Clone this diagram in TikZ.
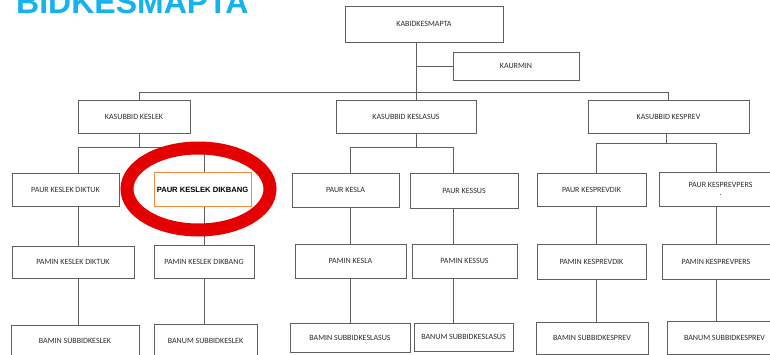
\documentclass[tikz,border=0pt]{standalone}
\usepackage{fontspec}
\setmainfont{Carlito}
\newfontfamily\titlefont{Liberation Sans}
\usetikzlibrary{calc}
\definecolor{boxline}{RGB}{95,95,95}
\definecolor{boxtext}{RGB}{45,45,45}
\definecolor{titlecyan}{RGB}{20,178,238}
\definecolor{hiorange}{RGB}{240,140,60}
\definecolor{ringred}{RGB}{228,0,0}
\tikzset{
  orgbox/.style={draw=boxline, line width=0.75pt, fill=white, inner sep=1pt,
    font=\fontsize{8}{9}\selectfont, text=boxtext, align=center},
  link/.style={draw=boxline, line width=0.75pt},
}
\newcommand{\obox}[7]{% name, x1, y1, x2, y2, text, extra
  \node[orgbox, minimum width={(#4-#2)*1pt}, minimum height={(#5-#3)*1pt}, #7]
    (#1) at ({(#2+#4)/2}, {(#3+#5)/2}) {#6};}
\begin{document}
\begin{tikzpicture}[x=1pt, y=-1pt]
\useasboundingbox (0,0) rectangle (770,355);
\fill[white] (0,0) rectangle (770,355);
\node[anchor=base west, inner sep=0pt, text=titlecyan,
  font=\titlefont\bfseries\fontsize{32}{32}\selectfont] (title) at (16,14) {BIDKESMAPTA};

% junction coordinates
\coordinate (j0) at (416,92);
\coordinate (c1) at (78,147);
\coordinate (c2) at (204,147);
\coordinate (c3) at (350,147);
\coordinate (c4) at (453,147);
\coordinate (c5) at (596,143);
\coordinate (c6) at (716,143);

\obox{kab}{345}{6}{503}{42}{KABIDKESMAPTA}{}
\obox{kaur}{453}{52}{579}{80}{KAURMIN}{}
\obox{ksl}{78}{100}{190}{133}{KASUBBID KESLEK}{}
\obox{kla}{336}{100}{476}{133}{KASUBBID KESLASUS}{}
\obox{kpr}{588}{100}{749}{133}{KASUBBID KESPREV}{}

\obox{p1}{12}{173}{119}{206}{PAUR KESLEK DIKTUK}{}
\obox{p2}{154}{173}{251}{207}{PAUR KESLEK DIKBANG}{draw=hiorange, line width=1pt, text=black, font={\titlefont\bfseries\fontsize{7.6}{9}\selectfont}}
\obox{p3}{292}{173}{399}{207}{PAUR KESLA}{}
\obox{p4}{410}{173}{518}{208}{PAUR KESSUS}{}
\obox{p5}{537}{173}{646}{206}{PAUR KESPREVDIK}{}
\obox{p6}{659}{172}{782}{206}{PAUR KESPREVPERS\\[-1pt] .}{}

\obox{m1}{12}{246}{134}{278}{PAMIN KESLEK DIKTUK}{}
\obox{m2}{154}{245}{254}{278}{PAMIN KESLEK DIKBANG}{}
\obox{m3}{295}{244}{406}{278}{PAMIN KESLA}{}
\obox{m4}{412}{244}{517}{278}{PAMIN KESSUS}{}
\obox{m5}{537}{244}{646}{279}{PAMIN KESPREVDIK}{}
\obox{m6}{662}{244}{770}{279}{PAMIN KESPREVPERS}{}

\obox{b1}{11}{325}{139}{357}{BAMIN SUBBIDKESLEK}{}
\obox{b2}{154}{324}{257}{357}{BANUM SUBBIDKESLEK}{}
\obox{b3}{290}{323}{410}{352}{BAMIN SUBBIDKESLASUS}{}
\obox{b4}{414}{323}{513}{351}{BANUM SUBBIDKESLASUS}{}
\obox{b5}{536}{322}{648}{354}{BAMIN SUBBIDKESPREV}{}
\obox{b6}{667}{321}{782}{354}{BANUM SUBBIDKESPREV}{}

% top level
\draw[link] (kab.south -| j0) -- (kla.north -| j0);
\draw[link] (kaur.west) -- (kaur.west -| j0);
\draw[link] ([xshift=5pt]ksl.north) |- (kpr.north |- j0) -- (kpr.north);

% KESLEK
\draw[link] ([xshift=5pt]ksl.south) -- ([xshift=5pt]ksl.south |- c1);
\draw[link] (p1.north -| c1) |- (c2) -- (p2.north -| c2);
\draw[link] (p1.south -| c1) -- (m1.north -| c1);
\draw[link] (m1.south -| c1) -- (b1.north -| c1);
\draw[link] (p2.south -| c2) -- (m2.north -| c2);
\draw[link] (m2.south -| c2) -- (b2.north -| c2);

% KESLASUS
\draw[link] (kla.south -| j0) -- (c3 -| j0);
\draw[link] (p3.north -| c3) |- (c4) -- (p4.north -| c4);
\draw[link] (p3.south -| c3) -- (m3.north -| c3);
\draw[link] (m3.south -| c3) -- (b3.north -| c3);
\draw[link] (p4.south -| c4) -- (m4.north -| c4);
\draw[link] (m4.south -| c4) -- (b4.north -| c4);

% KESPREV
\draw[link] ([xshift=-2.5pt]kpr.south) -- ([xshift=-2.5pt]kpr.south |- c5);
\draw[link] (p5.north -| c5) |- (c6) -- (p6.north -| c6);
\draw[link] (p5.south -| c5) -- (m5.north -| c5);
\draw[link] (m5.south -| c5) -- (b5.north -| c5);
\draw[link] (p6.south -| c6) -- (m6.north -| c6);
\draw[link] (m6.south -| c6) -- (b6.north -| c6);

% highlight ring
\draw[ringred, line width=13pt] (198.5,189) ellipse [x radius=71.5, y radius=41];
\end{tikzpicture}
\end{document}
